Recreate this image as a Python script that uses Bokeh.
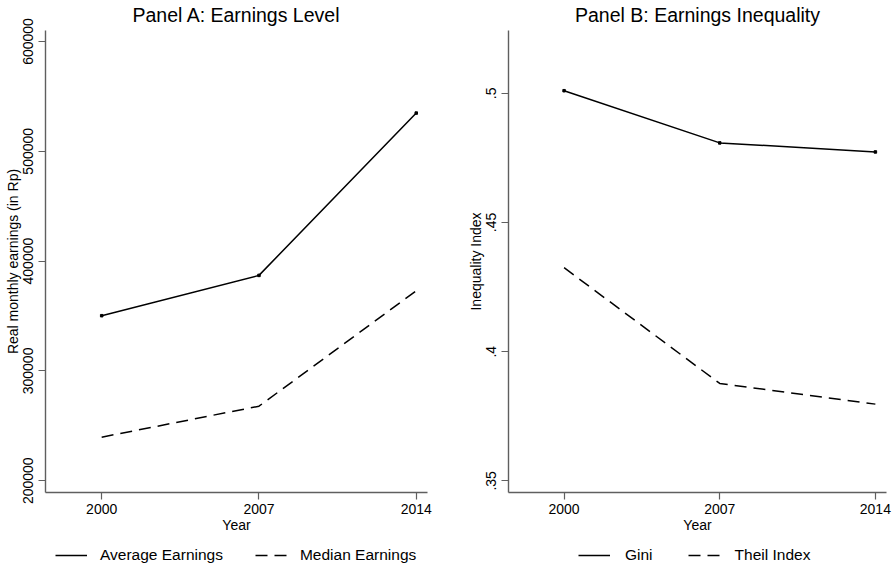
from bokeh.plotting import figure
from bokeh.layouts import row, column
from bokeh.models import Range1d, FixedTicker, Legend, LegendItem
from bokeh.embed import file_html
from bokeh.resources import INLINE

# Survey years
years = [2000, 2007, 2014]

# Panel A: real monthly earnings (Rp)
avg_earnings = [350300, 387000, 534800]
median_earnings = [239700, 267900, 373000]

# Panel B: inequality indices
gini = [0.501, 0.4808, 0.4773]
theil = [0.4325, 0.3877, 0.3797]

earn_ticks = [200000, 300000, 400000, 500000, 600000]
ineq_ticks = [0.35, 0.40, 0.45, 0.50]
ineq_labels = {0.35: ".35", 0.4: ".4", 0.45: ".45", 0.5: ".5"}

FONT = "Liberation Sans"
AXIS_COLOR = "#5f5f5f"
DASH = "12 7"


def make_panel(title, ylabel, yrange, yticks, frame_w, left_border, right_border):
    p = figure(frame_width=frame_w, frame_height=462, output_backend="svg",
               toolbar_location=None,
               x_range=Range1d(1997.5, 2014.5), y_range=Range1d(*yrange),
               min_border_left=left_border, min_border_right=right_border,
               min_border_top=30, min_border_bottom=45)
    p.title.text = title
    p.title.align = "center"
    p.title.vertical_align = "top"
    p.title.text_font = FONT
    p.title.text_font_size = "19.5px"
    p.title.text_font_style = "normal"
    p.title.text_color = "black"
    p.title.standoff = 6
    p.outline_line_color = None
    p.xgrid.visible = False
    p.ygrid.visible = False

    for ax in (p.xaxis[0], p.yaxis[0]):
        ax.axis_line_color = AXIS_COLOR
        ax.axis_line_width = 1.4
        ax.major_tick_line_color = AXIS_COLOR
        ax.major_tick_line_width = 1.2
        ax.major_tick_out = 7
        ax.major_tick_in = 0
        ax.minor_tick_line_color = None
        ax.major_label_text_font = FONT
        ax.major_label_text_font_size = "14px"
        ax.major_label_text_color = "black"
        ax.axis_label_text_font = FONT
        ax.axis_label_text_font_size = "14px"
        ax.axis_label_text_font_style = "normal"
        ax.axis_label_text_color = "black"

    p.xaxis.ticker = FixedTicker(ticks=years)
    p.xaxis.axis_label = "Year"
    p.xaxis.major_label_standoff = 4
    p.xaxis.axis_label_standoff = 0

    p.yaxis.ticker = FixedTicker(ticks=yticks)
    p.yaxis.axis_label = ylabel
    p.yaxis.major_label_orientation = "vertical"
    p.yaxis.major_label_standoff = 5
    p.yaxis.axis_label_standoff = 0
    return p


def make_key(labels, series, x_offset, standoff, spacing):
    # strip under a panel that holds its horizontal key; the series lines
    # themselves fall outside this strip's ranges, only their key glyphs show
    k = figure(width=448, height=29, output_backend="svg", toolbar_location=None,
               x_axis_type=None, y_axis_type=None,
               x_range=Range1d(0, 1), y_range=Range1d(0, 1),
               min_border=0)
    k.outline_line_color = None
    solid = k.line(years, series[0], line_color="black", line_width=1.5)
    dashed = k.line(years, series[1], line_color="black", line_width=1.5, line_dash=DASH)
    legend = Legend(items=[LegendItem(label=labels[0], renderers=[solid]),
                           LegendItem(label=labels[1], renderers=[dashed])],
                    orientation="horizontal", location=(x_offset, 2),
                    border_line_color=None, background_fill_alpha=0,
                    glyph_width=32, glyph_height=18, label_height=18,
                    label_standoff=standoff, spacing=spacing,
                    label_text_font=FONT, label_text_font_size="15.5px",
                    label_text_color="black", padding=0, margin=0)
    k.add_layout(legend, "center")
    return k


# Panel A
pa = make_panel("Panel A: Earnings Level", "Real monthly earnings (in Rp)",
                (189300, 610000), earn_ticks, 382, 45, 21)
pa.yaxis.formatter.use_scientific = False
pa.line(years, avg_earnings, line_color="black", line_width=1.5)
pa.line(years, median_earnings, line_color="black", line_width=1.5, line_dash=DASH)
pa.scatter(years, avg_earnings, size=2.5, marker="square", color="black")
ka = make_key(["Average Earnings", "Median Earnings"], [avg_earnings, median_earnings],
              10, 13, 32)

# Panel B
pb = make_panel("Panel B: Earnings Inequality", "Inequality Index",
                (0.3455, 0.5243), ineq_ticks, 378, 60, 10)
pb.yaxis.major_label_overrides = ineq_labels
pb.line(years, gini, line_color="black", line_width=1.5)
pb.line(years, theil, line_color="black", line_width=1.5, line_dash=DASH)
pb.scatter(years, gini, size=2.5, marker="square", color="black")
kb = make_key(["Gini", "Theil Index"], [gini, theil], 70, 15, 35)

layout = row(column(pa, ka), column(pb, kb))
open("out.html", "w").write(file_html(layout, INLINE))
